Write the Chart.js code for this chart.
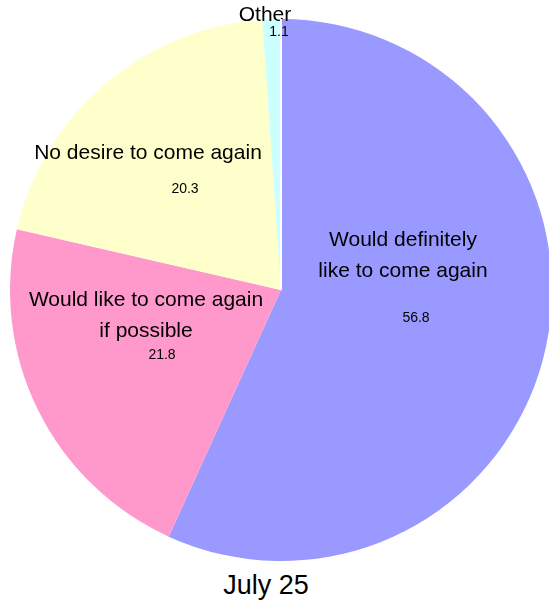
<!DOCTYPE html>
<html lang="en">
<head>
    <meta charset="UTF-8">
    <title>July 25</title>
    <script src="https://cdn.jsdelivr.net/npm/chart.js"></script>
    <style>
        html, body {
            margin: 0;
            padding: 0;
            background: #fff;
            overflow: hidden;
            width: 549px;
            height: 602px;
            font-family: "Liberation Sans", Arial, sans-serif;
        }
        #pieChart {
            position: absolute;
            left: 10px;
            top: 0;
        }
        .chart-title {
            position: absolute;
            left: 0;
            top: 568px;
            width: 532px;
            text-align: center;
            font-size: 27px;
            line-height: 34px;
            color: #000;
        }
    </style>
</head>
<body>
    <canvas id="pieChart" width="542" height="562"></canvas>
    <div class="chart-title">July 25</div>

    <script>
        const labels = [
            ['Would definitely', 'like to come again'],
            ['Would like to come again', 'if possible'],
            ['No desire to come again'],
            ['Other']
        ];
        const values = [56.8, 21.8, 20.3, 1.1];
        const colors = ['#9999FF', '#FF99CC', '#FFFFCC', '#CCFFFF'];

        // label anchors relative to pie centre (px at radius 271): name block centre, value centre
        const labelOffsets = [
            { nx: 122, ny: -34, vx: 135, vy: 28 },
            { nx: -135, ny: 26, vx: -119, vy: 65 },
            { nx: -133, ny: -137, vx: -96, vy: -101 },
            { nx: -16, ny: -275, vx: -2, vy: -258 }
        ];

        const sliceLabels = {
            id: 'sliceLabels',
            afterDatasetsDraw(chart) {
                const ctx = chart.ctx;
                const meta = chart.getDatasetMeta(0);
                ctx.save();
                ctx.fillStyle = '#000';
                ctx.textAlign = 'center';
                ctx.textBaseline = 'middle';
                meta.data.forEach((arc, i) => {
                    const k = arc.outerRadius / 271;
                    const off = labelOffsets[i];
                    const lines = labels[i];
                    const lh = 31;
                    const cx = arc.x + off.nx * k;
                    const cy = arc.y + off.ny * k;
                    ctx.font = '21px "Liberation Sans", Arial, sans-serif';
                    lines.forEach((line, j) => {
                        ctx.fillText(line, cx, cy + (j - (lines.length - 1) / 2) * lh);
                    });
                    ctx.font = '14px "Liberation Sans", Arial, sans-serif';
                    ctx.fillText(values[i].toFixed(1), arc.x + off.vx * k, arc.y + off.vy * k);
                });
                // thin white seam where the first slice starts
                const first = meta.data[0];
                ctx.strokeStyle = '#fff';
                ctx.lineWidth = 2;
                ctx.beginPath();
                ctx.moveTo(first.x, first.y);
                ctx.lineTo(first.x, first.y - first.outerRadius);
                ctx.stroke();
                ctx.restore();
            }
        };

        new Chart(document.getElementById('pieChart'), {
            type: 'pie',
            data: {
                labels: labels.map(l => l.join(' ')),
                datasets: [{
                    data: values,
                    backgroundColor: colors,
                    borderWidth: 0
                }]
            },
            options: {
                responsive: false,
                animation: false,
                devicePixelRatio: 1,
                layout: { padding: { top: 19, bottom: 1 } },
                plugins: {
                    legend: { display: false },
                    tooltip: { enabled: false },
                    title: { display: false }
                }
            },
            plugins: [sliceLabels]
        });
    </script>
</body>
</html>
